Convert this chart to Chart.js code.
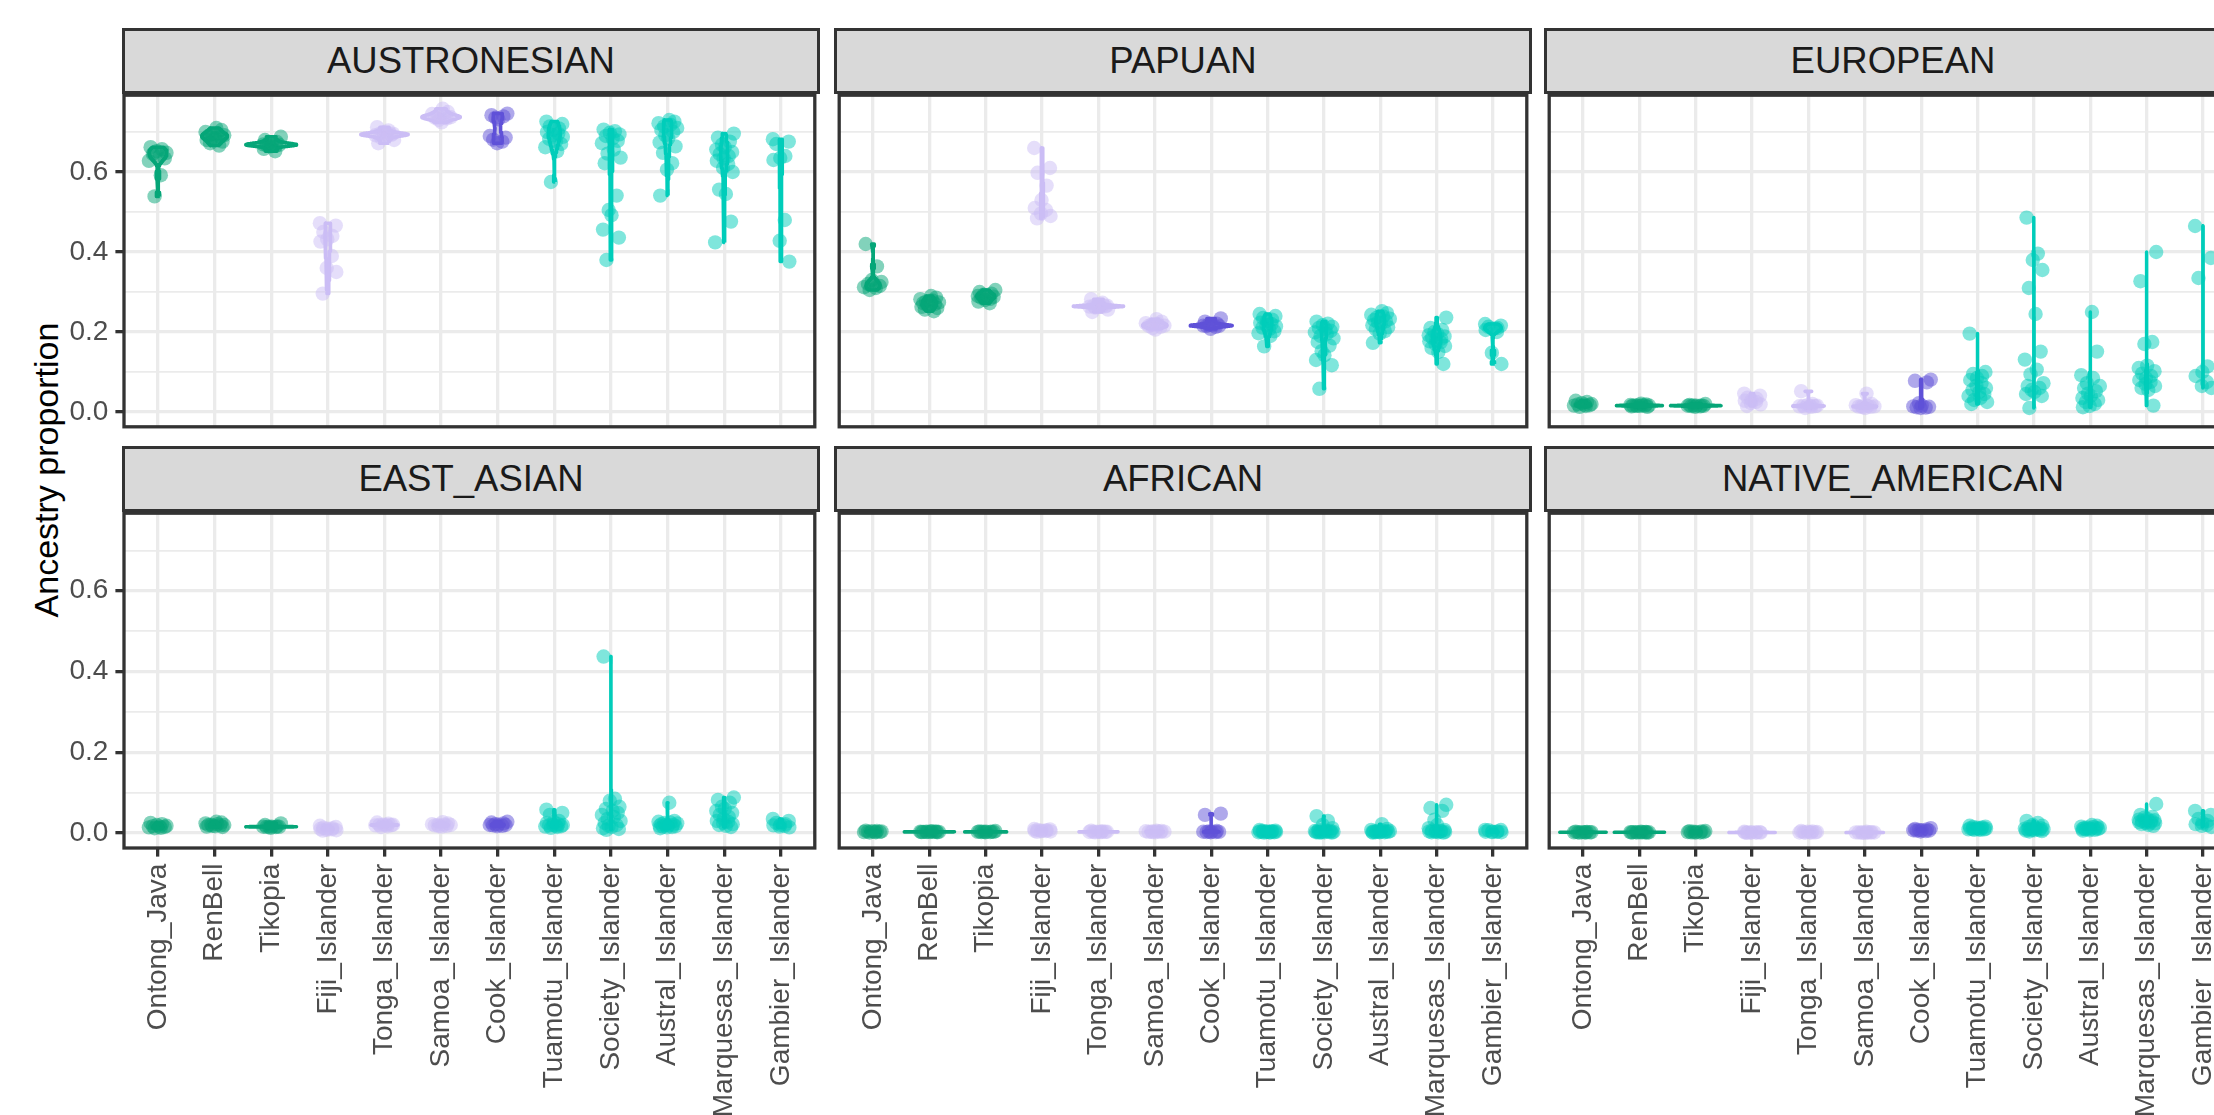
<!DOCTYPE html>
<html><head><meta charset="utf-8">
<script src="https://cdn.jsdelivr.net/npm/chart.js@4/dist/chart.umd.min.js"></script>
<style>
html,body{margin:0;padding:0;background:#fff;overflow:hidden;width:2214px;height:1115px;position:relative;font-family:"Liberation Sans",Arial,sans-serif}
.strip{position:absolute;box-sizing:border-box;background:#d9d9d9;border:3.3px solid #333;color:#1a1a1a;font-size:36.5px;display:flex;align-items:center;justify-content:center;white-space:nowrap}
canvas{position:absolute}
#ytitle{position:absolute;left:-254px;top:450px;width:600px;height:40px;line-height:40px;text-align:center;font-size:34px;color:#000;transform:rotate(-90deg);white-space:nowrap}
</style></head>
<body>
<div id="ytitle">Ancestry proportion</div>
<script>
// ---------------- data ----------------
const CATEGORIES = ["Ontong_Java","RenBell","Tikopia","Fiji_Islander","Tonga_Islander","Samoa_Islander","Cook_Islander","Tuamotu_Islander","Society_Islander","Austral_Islander","Marquesas_Islander","Gambier_Islander"];
const PANEL_NAMES = ["AUSTRONESIAN","PAPUAN","EUROPEAN","EAST_ASIAN","AFRICAN","NATIVE_AMERICAN"];
const Y_GRID = [0, 0.1, 0.2, 0.3, 0.4, 0.5, 0.6, 0.7];
const Y_MAJOR = [0, 0.2, 0.4, 0.6];
const Y_TICK_LABELS = ["0.0","0.2","0.4","0.6"];

const AUSTRONESIAN = [
 [0.662,0.657,0.652,0.648,0.645,0.64,0.634,0.628,0.592,0.539],
 [0.71,0.705,0.7,0.696,0.694,0.692,0.69,0.688,0.686,0.684,0.68,0.676,0.672,0.666],
 [0.688,0.68,0.675,0.672,0.67,0.669,0.668,0.667,0.666,0.664,0.658,0.652],
 [0.472,0.466,0.45,0.44,0.432,0.426,0.39,0.36,0.35,0.296],
 [0.712,0.704,0.699,0.696,0.695,0.694,0.693,0.692,0.69,0.686,0.68,0.672],
 [0.758,0.75,0.745,0.741,0.739,0.737,0.736,0.734,0.73,0.724],
 [0.746,0.742,0.739,0.736,0.732,0.69,0.686,0.681,0.676,0.672],
 [0.726,0.72,0.714,0.709,0.705,0.7,0.696,0.692,0.688,0.683,0.677,0.67,0.662,0.652,0.575],
 [0.706,0.702,0.698,0.694,0.69,0.684,0.678,0.672,0.656,0.646,0.636,0.622,0.541,0.505,0.492,0.456,0.436,0.38],
 [0.73,0.726,0.722,0.718,0.714,0.71,0.705,0.7,0.692,0.684,0.674,0.664,0.648,0.622,0.606,0.541],
 [0.696,0.686,0.676,0.668,0.662,0.656,0.65,0.645,0.64,0.634,0.628,0.62,0.61,0.6,0.556,0.545,0.476,0.424],
 [0.682,0.676,0.67,0.64,0.635,0.63,0.48,0.428,0.376]
];
const PAPUAN = [
 [0.42,0.364,0.33,0.325,0.32,0.318,0.315,0.312,0.31,0.305],
 [0.29,0.286,0.282,0.279,0.276,0.274,0.272,0.27,0.268,0.266,0.263,0.26,0.256,0.252],
 [0.305,0.3,0.296,0.293,0.291,0.29,0.288,0.286,0.283,0.28,0.276,0.272],
 [0.66,0.61,0.598,0.566,0.53,0.51,0.505,0.496,0.49,0.484],
 [0.282,0.273,0.268,0.266,0.265,0.2645,0.264,0.2635,0.263,0.261,0.256,0.25],
 [0.232,0.226,0.222,0.22,0.218,0.216,0.215,0.213,0.21,0.206],
 [0.234,0.226,0.221,0.218,0.217,0.216,0.2155,0.215,0.213,0.208],
 [0.245,0.24,0.235,0.231,0.227,0.223,0.22,0.217,0.214,0.211,0.207,0.202,0.197,0.19,0.164],
 [0.226,0.221,0.217,0.213,0.21,0.207,0.203,0.199,0.195,0.19,0.184,0.175,0.166,0.152,0.142,0.13,0.117,0.058],
 [0.252,0.247,0.243,0.239,0.236,0.233,0.23,0.227,0.224,0.221,0.217,0.212,0.207,0.202,0.196,0.173],
 [0.236,0.21,0.205,0.2,0.196,0.192,0.189,0.186,0.183,0.18,0.177,0.174,0.17,0.165,0.16,0.15,0.12],
 [0.22,0.216,0.213,0.21,0.208,0.205,0.2,0.148,0.12]
];
const EUROPEAN = [
 [0.028,0.025,0.022,0.02,0.019,0.018,0.017,0.016,0.015,0.013],
 [0.021,0.019,0.0175,0.0168,0.0165,0.0162,0.016,0.0158,0.0155,0.015,0.0142,0.013],
 [0.02,0.0175,0.0166,0.0162,0.016,0.0157,0.0154,0.015,0.0142,0.013],
 [0.046,0.041,0.036,0.033,0.03,0.028,0.025,0.022,0.019,0.015],
 [0.052,0.02,0.017,0.0158,0.0153,0.015,0.0147,0.0142,0.013,0.01],
 [0.046,0.02,0.017,0.015,0.0145,0.014,0.0135,0.013,0.012,0.01],
 [0.081,0.078,0.074,0.022,0.016,0.014,0.013,0.012,0.011,0.01],
 [0.196,0.1,0.095,0.09,0.085,0.08,0.072,0.066,0.06,0.055,0.05,0.045,0.04,0.035,0.03,0.025,0.02],
 [0.486,0.396,0.38,0.355,0.31,0.245,0.151,0.131,0.106,0.094,0.072,0.065,0.06,0.055,0.05,0.045,0.04,0.01],
 [0.25,0.151,0.092,0.085,0.072,0.065,0.06,0.052,0.046,0.04,0.035,0.03,0.025,0.02,0.015,0.012],
 [0.4,0.327,0.175,0.17,0.116,0.11,0.102,0.096,0.09,0.085,0.08,0.075,0.07,0.065,0.06,0.055,0.016],
 [0.465,0.385,0.335,0.114,0.1,0.09,0.075,0.065,0.06]
];
const EAST_ASIAN = [
 [0.025,0.022,0.02,0.018,0.017,0.016,0.015,0.014,0.013,0.012],
 [0.028,0.026,0.024,0.022,0.021,0.02,0.02,0.019,0.018,0.017,0.016,0.015],
 [0.024,0.02,0.0165,0.016,0.0158,0.0156,0.0155,0.0153,0.015,0.013],
 [0.018,0.015,0.013,0.012,0.011,0.01,0.009,0.008,0.007,0.006],
 [0.026,0.023,0.021,0.0205,0.02,0.0198,0.0195,0.019,0.017,0.015],
 [0.027,0.024,0.022,0.021,0.02,0.02,0.019,0.018,0.017,0.016],
 [0.028,0.026,0.024,0.022,0.021,0.02,0.02,0.019,0.018,0.017],
 [0.058,0.05,0.045,0.03,0.028,0.025,0.022,0.02,0.02,0.019,0.018,0.017,0.016,0.015,0.013],
 [0.437,0.085,0.08,0.065,0.06,0.055,0.05,0.045,0.04,0.035,0.03,0.025,0.02,0.018,0.015,0.012,0.01,0.008],
 [0.075,0.03,0.028,0.026,0.025,0.024,0.022,0.021,0.02,0.019,0.018,0.017,0.016,0.015,0.014,0.012],
 [0.088,0.082,0.075,0.065,0.06,0.055,0.05,0.045,0.04,0.035,0.03,0.028,0.025,0.022,0.02,0.018,0.015],
 [0.035,0.03,0.025,0.022,0.02,0.019,0.018,0.016,0.014]
];
const AFRICAN = [
 [0.006,0.005,0.0045,0.004,0.0035,0.003,0.003,0.0025,0.002,0.0015],
 [0.0045,0.0038,0.0034,0.0032,0.0031,0.003,0.003,0.0029,0.0028,0.0026,0.0023,0.002],
 [0.005,0.0042,0.0035,0.0032,0.0031,0.003,0.0029,0.0028,0.0025,0.002],
 [0.01,0.009,0.008,0.007,0.006,0.0055,0.005,0.0045,0.004,0.003],
 [0.006,0.0045,0.0036,0.0032,0.0031,0.003,0.0029,0.0028,0.0025,0.0018],
 [0.006,0.005,0.0045,0.004,0.0038,0.0035,0.003,0.003,0.0025,0.002],
 [0.048,0.045,0.005,0.004,0.0036,0.0032,0.003,0.0028,0.0024,0.002],
 [0.008,0.006,0.005,0.0045,0.004,0.004,0.0035,0.003,0.003,0.003,0.0025,0.002,0.002,0.0015,0.001],
 [0.042,0.03,0.02,0.012,0.008,0.006,0.005,0.005,0.004,0.004,0.003,0.003,0.003,0.002,0.002,0.002,0.001,0.001],
 [0.022,0.01,0.008,0.006,0.005,0.005,0.004,0.004,0.0035,0.003,0.003,0.003,0.0025,0.002,0.002,0.001],
 [0.07,0.062,0.055,0.033,0.02,0.012,0.008,0.006,0.005,0.005,0.004,0.004,0.003,0.003,0.002,0.002,0.001],
 [0.008,0.0075,0.007,0.004,0.0035,0.0032,0.003,0.0025,0.002]
];
const NATIVE_AMERICAN = [
 [0.0035,0.0026,0.0023,0.0021,0.002,0.002,0.0019,0.0018,0.0015,0.001],
 [0.0035,0.0026,0.0023,0.0021,0.002,0.002,0.002,0.0019,0.0018,0.0016,0.0013,0.001],
 [0.005,0.0045,0.004,0.0035,0.003,0.0025,0.002,0.0018,0.0015,0.001],
 [0.0032,0.0022,0.0018,0.0016,0.0015,0.0015,0.0014,0.0013,0.001,0.0005],
 [0.005,0.0042,0.0036,0.003,0.0025,0.002,0.0017,0.0013,0.001,0.0008],
 [0.0033,0.0022,0.0018,0.0016,0.0015,0.0014,0.0013,0.0012,0.001,0.0005],
 [0.012,0.01,0.009,0.008,0.007,0.007,0.006,0.006,0.005,0.004],
 [0.018,0.016,0.015,0.014,0.013,0.012,0.012,0.011,0.011,0.01,0.01,0.009,0.009,0.008,0.008],
 [0.03,0.025,0.02,0.018,0.015,0.013,0.012,0.011,0.01,0.01,0.009,0.009,0.008,0.008,0.007,0.006,0.005,0.004],
 [0.02,0.018,0.016,0.015,0.014,0.013,0.012,0.012,0.011,0.011,0.01,0.01,0.009,0.008,0.007,0.006],
 [0.072,0.045,0.04,0.038,0.035,0.033,0.032,0.03,0.03,0.028,0.027,0.026,0.025,0.024,0.022,0.02,0.018],
 [0.055,0.045,0.035,0.03,0.025,0.022,0.02,0.018,0.015]
];
const PANEL_DATA = [AUSTRONESIAN, PAPUAN, EUROPEAN, EAST_ASIAN, AFRICAN, NATIVE_AMERICAN];

// ---------------- style ----------------
const GROUP_RGB = [[5,166,120],[5,166,120],[5,166,120],[203,189,245],[203,189,245],[203,189,245],[95,81,216],[0,205,186],[0,205,186],[0,205,186],[0,205,186],[0,205,186]];
const JITTER = [-0.13,0.07,-0.02,0.15,-0.09,0.03,0.12,-0.16,0.05,-0.06,0.17,-0.11,0.1,-0.04,0.01,-0.14,0.14,-0.08,0.08,-0.01];
const FONT = '"Liberation Sans", Arial, sans-serif';
const X_MIN = -0.6, X_MAX = 11.6, Y_MIN = -0.037, Y_MAX = 0.792;
const PANEL_LEFT = [124, 836, 1546], PANEL_W = 694;
const STRIP_TOP = [30, 448], PLOT_TOP = [92, 510], PLOT_H = 338;
const LW = 3.3;

// ---------------- violin density (ggplot-like, scale = "area") ----------------
function quantile(s,p){const h=(s.length-1)*p,lo=Math.floor(h),hi=Math.ceil(h);return s[lo]+(s[hi]-s[lo])*(h-lo);}
function bwNrd0(x){const n=x.length,m=x.reduce((a,b)=>a+b,0)/n;
 const sd=Math.sqrt(x.reduce((a,b)=>a+(b-m)*(b-m),0)/(n-1));
 const s=[...x].sort((a,b)=>a-b);const iqr=quantile(s,0.75)-quantile(s,0.25);
 let lo=Math.min(sd,iqr/1.34); if(!(lo>0)) lo=sd||Math.abs(s[0])||1;
 return 0.9*lo*Math.pow(n,-0.2);}
function kde(x,bw,y){let s=0;for(const xi of x){const z=(y-xi)/bw;s+=Math.exp(-0.5*z*z);}return s/(x.length*bw*Math.sqrt(2*Math.PI));}

function violins(groups){
 const N=300;
 const dens=groups.map(vals=>{const bw=bwNrd0(vals);const lo=Math.min(...vals),hi=Math.max(...vals);
   const ys=[],ds=[];for(let k=0;k<N;k++){const y=lo+(hi-lo)*k/(N-1);ys.push(y);ds.push(kde(vals,bw,y));}return {ys,ds};});
 const maxD=Math.max(...dens.map(d=>Math.max(...d.ds)));
 return dens.map((d,c)=>{const pts=[];
   for(let k=0;k<N;k++) pts.push({x:c+d.ds[k]/maxD*0.45,y:d.ys[k]});
   for(let k=N-1;k>=0;k--) pts.push({x:c-d.ds[k]/maxD*0.45,y:d.ys[k]});
   pts.push(pts[0]); return pts;});
}

const rgba=(c,a)=>`rgba(${c[0]},${c[1]},${c[2]},${a})`;
const near=(a,b)=>Math.abs(a-b)<1e-9;
const isMajor=v=>Y_MAJOR.some(m=>near(m,v));

const borderPlugin={id:'panelBorder',afterDraw(chart){const a=chart.chartArea,ctx=chart.ctx;ctx.save();ctx.strokeStyle='#333';ctx.lineWidth=LW;ctx.strokeRect(a.left,a.top,a.right-a.left,a.bottom-a.top);ctx.restore();}};

PANEL_NAMES.forEach((name,p)=>{
 const row=Math.floor(p/3), col=p%3;
 const left=PANEL_LEFT[col];
 const st=document.createElement('div');st.className='strip';st.textContent=name;
 st.style.left=(left-1.65)+'px';st.style.top=(STRIP_TOP[row]-1.65)+'px';
 st.style.width=(PANEL_W+3.3)+'px';st.style.height=(PLOT_TOP[row]-STRIP_TOP[row]+3.3)+'px';
 document.body.appendChild(st);
 const cv=document.createElement('canvas');
 const cl = col===0 ? 0 : left-4;
 const cw = left+PANEL_W+4-cl;
 const ct = PLOT_TOP[row]-4;
 const ch = row===0 ? PLOT_H+8 : 1115-ct;
 cv.width=cw;cv.height=ch;cv.style.left=cl+'px';cv.style.top=ct+'px';cv.style.width=cw+'px';cv.style.height=ch+'px';
 document.body.appendChild(cv);

 const groups=PANEL_DATA[p];
 const vio=violins(groups);
 const datasets=[];
 groups.forEach((vals,c)=>{
   datasets.push({data:vals.map((v,i)=>({x:c+JITTER[(i+c*5)%JITTER.length],y:v})),
     pointRadius:7.2,pointBackgroundColor:rgba(GROUP_RGB[c],0.5),pointBorderWidth:0,order:2});
 });
 vio.forEach((pts,c)=>{
   datasets.push({data:pts,showLine:true,fill:'shape',borderColor:rgba(GROUP_RGB[c],1),backgroundColor:rgba(GROUP_RGB[c],0.25),
     borderWidth:3.5,pointRadius:0,tension:0,borderJoinStyle:'round',order:1});
 });

 new Chart(cv,{type:'scatter',data:{datasets},plugins:[borderPlugin],
  options:{responsive:false,animation:false,devicePixelRatio:1,events:[],
   layout:{padding:{left:col===0?0:4,right:4,top:4,bottom:row===0?4:0}},
   plugins:{legend:{display:false},tooltip:{enabled:false}},
   scales:{
    x:{type:'linear',min:X_MIN,max:X_MAX,
      afterBuildTicks:s=>{s.ticks=CATEGORIES.map((_,i)=>({value:i}));},
      afterFit:s=>{s.height=row===0?0:1115-ct-4-PLOT_H;s.paddingLeft=0;s.paddingRight=0;},
      ticks:{display:row===1,autoSkip:false,minRotation:90,maxRotation:90,padding:7,color:'#4d4d4d',font:{family:FONT,size:28},callback:v=>CATEGORIES[Math.round(v)]},
      grid:{color:'#ebebeb',lineWidth:LW,drawTicks:row===1,tickLength:8.6,tickColor:'#333',tickWidth:LW},
      border:{display:false}},
    y:{type:'linear',min:Y_MIN,max:Y_MAX,
      afterBuildTicks:s=>{s.ticks=Y_GRID.map(v=>({value:v}));},
      afterFit:s=>{s.width=col===0?124:0;s.paddingTop=0;s.paddingBottom=0;},
      ticks:{display:col===0,padding:7,color:'#4d4d4d',font:{family:FONT,size:28},
        callback:v=>{const i=Y_MAJOR.findIndex(m=>near(m,v));return i>=0?Y_TICK_LABELS[i]:'';}},
      grid:{color:'#ebebeb',lineWidth:ctx=>isMajor(ctx.tick.value)?LW:1.65,drawTicks:col===0,tickLength:8.6,
        tickColor:ctx=>isMajor(ctx.tick.value)?'#333':'rgba(0,0,0,0)',tickWidth:LW},
      border:{display:false}}
   }}});
});
</script>
</body></html>
